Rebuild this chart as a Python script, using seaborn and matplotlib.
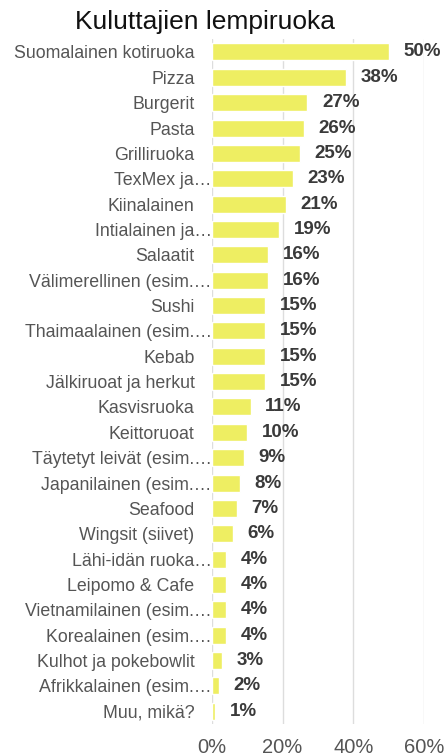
import matplotlib
matplotlib.use("Agg")
import matplotlib.pyplot as plt
import seaborn as sns
import pandas as pd

# data
ruoat = [
    "Suomalainen kotiruoka", "Pizza", "Burgerit", "Pasta", "Grilliruoka",
    "TexMex ja…", "Kiinalainen", "Intialainen ja…", "Salaatit",
    "Välimerellinen (esim.…", "Sushi", "Thaimaalainen (esim.…", "Kebab",
    "Jälkiruoat ja herkut", "Kasvisruoka", "Keittoruoat",
    "Täytetyt leivät (esim.…", "Japanilainen (esim.…", "Seafood",
    "Wingsit (siivet)", "Lähi-idän ruoka…", "Leipomo & Cafe",
    "Vietnamilainen (esim.…", "Korealainen (esim.…", "Kulhot ja pokebowlit",
    "Afrikkalainen (esim.…", "Muu, mikä?",
]
osuus = [50, 38, 27, 26, 25, 23, 21, 19, 16, 16, 15, 15, 15, 15, 11, 10,
         9, 8, 7, 6, 4, 4, 4, 4, 3, 2, 1]
x_ticks = [0, 20, 40, 60]

df = pd.DataFrame({"ruoka": ruoat, "osuus": osuus})

sns.set_style("white")
plt.rcParams["font.family"] = ["Liberation Sans", "DejaVu Sans"]

fig = plt.figure(figsize=(4.45, 7.56), dpi=100)
ax = fig.add_axes([0.476, 0.0425, 0.477, 0.9055])

sns.barplot(data=df, x="osuus", y="ruoka", color="#EEEE62", saturation=1,
            width=0.67, ax=ax, zorder=3)

ax.set_xlim(0, 60)
ax.set_ylim(len(ruoat) - 0.5, -0.5)
ax.set_xticks(x_ticks)
ax.set_xticklabels([f"{t}%" for t in x_ticks], fontsize=14.5, color="#555555")
ax.tick_params(axis="x", length=0, pad=10)
ax.tick_params(axis="y", length=0, labelsize=12.8, labelcolor="#555555")
ax.grid(axis="x", color="#dddddd", linewidth=1, zorder=0)
ax.grid(axis="y", visible=False)
for s in ax.spines.values():
    s.set_visible(False)
ax.set_xlabel("")
ax.set_ylabel("")

# truncated labels sit right against the axis
for tick, lab in zip(ax.yaxis.get_major_ticks(), ruoat):
    tick.set_pad(0 if lab.endswith("…") else 12.5)

for i, v in enumerate(osuus):
    ax.annotate(f"{v}%", (v, i), xytext=(10.5, 0), textcoords="offset points",
                va="center", ha="left", fontsize=13.5, fontweight="bold",
                color="#3a3a3a", annotation_clip=False)

fig.text(0.46, 0.971, "Kuluttajien lempiruoka", ha="center", va="center",
         fontsize=19, color="#111111")

fig.savefig("out.png", dpi=100)
